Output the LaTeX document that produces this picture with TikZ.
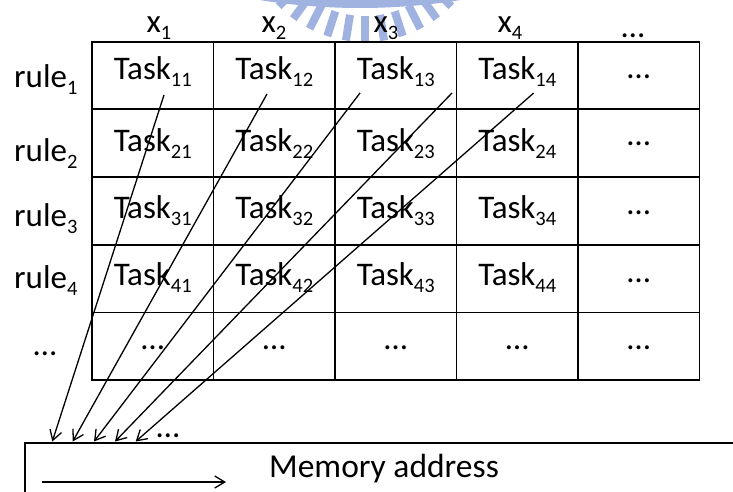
\documentclass[tikz,border=0pt]{standalone}
\usepackage{fontspec}
\setmainfont{Carlito}
\usetikzlibrary{arrows.meta,calc}
\definecolor{wmblue}{RGB}{160,178,224}
\newcommand\subidx[1]{\raisebox{-7pt}{\fontsize{20.5}{20.5}\selectfont #1}}
\begin{document}
\begin{tikzpicture}[x=1pt,y=-1pt,
  gridline/.style={line width=1.8pt,black},
  conn/.style={line width=1.3pt,-{Straight Barb[length=10pt,width=12pt,line width=1.3pt]}},
  lbl/.style={anchor=base,inner sep=0pt,font=\fontsize{33}{33}\selectfont},
  wm/.style={wmblue}]
\useasboundingbox (0,0) rectangle (733,492);
\clip (0,0) rectangle (733,492);

% faint logo behind the table
\fill[wm,even odd rule] (360,-620) circle (628pt) (360,-620) circle (620pt);
\coordinate (wc) at (365,-80);
\foreach \a in {-45,-36,...,45}
  \draw[wm,line width=8pt] ($(wc)+(-90+\a:96pt)$) -- ($(wc)+(-90+\a:122pt)$);

% table
\foreach \x in {92,213.5,335,456.5,578,699.5}
  \draw[gridline] (\x,41.7) -- (\x,380.2);
\foreach \y in {41.7,109.4,177.1,244.8,312.5,380.2}
  \draw[gridline,line cap=rect] (92,\y) -- (699.5,\y);

% column headers
\node[lbl] (h1) at (159,33) {x\subidx{1}};
\node[lbl] (h2) at (274,33) {x\subidx{2}};
\node[lbl] (h3) at (386,33) {x\subidx{3}};
\node[lbl] (h4) at (510,33) {x\subidx{4}};
\node[lbl] (h5) at (633,37.5) {…};

% row headers
\node[lbl,anchor=base west] (r1) at (14,87.5) {rule\subidx{1}};
\node[lbl,anchor=base west] (r2) at (14,161) {rule\subidx{2}};
\node[lbl,anchor=base west] (r3) at (14,226.7) {rule\subidx{3}};
\node[lbl,anchor=base west] (r4) at (14,288.3) {rule\subidx{4}};
\node[lbl] (r5) at (45,355.5) {…};

% cells
\foreach \r/\yb in {1/79.5,2/151,3/218,4/285}{
  \foreach \c in {1,...,4}
    \node[lbl] (t\r\c) at ({92+121.5*(\c-0.5)},\yb) {Task\subidx{\r\c}};
}
\foreach \r/\yb in {1/78.5,2/146,3/214,4/282}
  \node[lbl] (t\r5) at (638.75,\yb) {…};
\foreach \c in {1,...,5}
  \node[lbl] (t5\c) at ({92+121.5*(\c-0.5)},349.5) {…};

% memory block
\node[draw,gridline,anchor=north west,minimum width=760pt,minimum height=90pt,inner sep=0pt] (mem) at (24,442.3) {};
\node[lbl,font=\fontsize{33.5}{33.5}\selectfont] (memtxt) at (384,477) {Memory address};
\coordinate (d0) at (42,482);
\coordinate (d1) at (226,482);
\draw[conn] (d0) -- (d1);

% mapping arrows
\coordinate (s1) at (164,95);   \coordinate (e1) at (52.3,441.5);
\coordinate (s2) at (267,94);   \coordinate (e2) at (72.7,441.5);
\coordinate (s3) at (360,93);   \coordinate (e3) at (94,441.5);
\coordinate (s4) at (452,93);   \coordinate (e4) at (115,441.5);
\coordinate (s5) at (533.7,93); \coordinate (e5) at (135.7,441.5);
\foreach \i in {1,...,5}
  \draw[conn] (s\i) -- (e\i);
\node[lbl] (more) at (168,437.5) {…};
\end{tikzpicture}
\end{document}
